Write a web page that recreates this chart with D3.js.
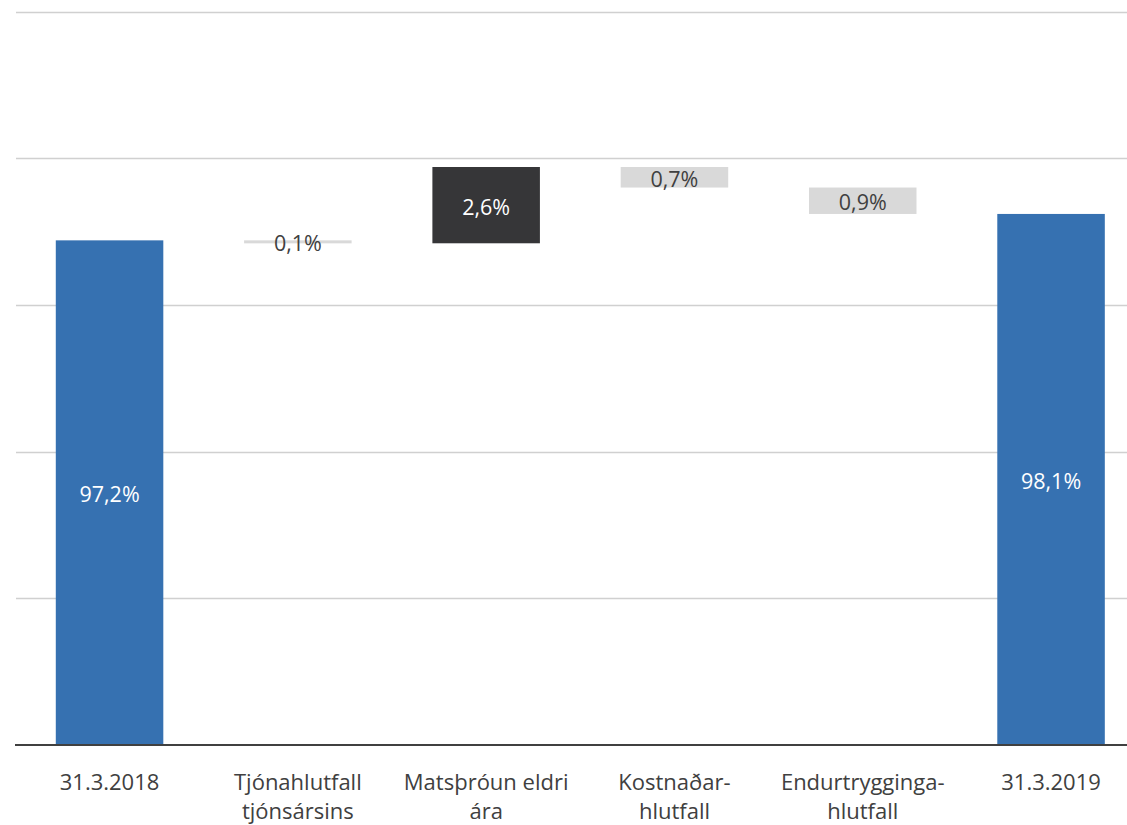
<!DOCTYPE html>
<html><head><meta charset="utf-8">
<script src="https://cdn.jsdelivr.net/npm/d3@7"></script>
<style>body{margin:0;background:#fff}svg{display:block}</style>
</head><body>
<script>
const categories = [["31.3.2018"],["Tjónahlutfall","tjónsársins"],["Matsþróun eldri","ára"],["Kostnaðar-","hlutfall"],["Endurtrygginga-","hlutfall"],["31.3.2019"]];
const values = [97.2, -0.1, 2.6, -0.7, -0.9, 98.1];
const kinds = ["total","delta","delta","delta","delta","total"];
const yTicks = [80, 85, 90, 95, 100, 105];

const W = 1127, H = 825;
const svg = d3.select("body").append("svg").attr("width", W).attr("height", H);
const font = "'Open Sans', sans-serif";

const x = d3.scaleBand().domain(d3.range(categories.length)).range([15.4, 1145.2]).paddingInner(0.429).paddingOuter(0.2145);
const y = d3.scaleLinear().domain([80, 105]).range([745, 11.5]);

// gridlines
svg.append("g").selectAll("line").data(yTicks.slice(1)).join("line")
  .attr("x1", 16).attr("x2", W).attr("y1", d => Math.round(y(d)) + 0.5).attr("y2", d => Math.round(y(d)) + 0.5)
  .attr("stroke", "#d0d0d0").attr("stroke-width", 1.3);

// compute waterfall segments
let run = 0;
const segs = values.map((v, i) => {
  let lo, hi, fill, tc;
  if (kinds[i] === "total") { lo = 80; hi = v; run = v; fill = "#3671b1"; tc = "#ffffff"; }
  else { const s = run, e = run + v; lo = Math.min(s, e); hi = Math.max(s, e); run = e;
    fill = v > 0 ? "#363638" : "#d9d9d9"; tc = v > 0 ? "#ffffff" : "#404040"; }
  return {i, v, lo, hi, fill, tc};
});

svg.append("g").selectAll("rect").data(segs).join("rect")
  .attr("x", d => x(d.i)).attr("width", x.bandwidth())
  .attr("y", d => y(d.hi)).attr("height", d => Math.max(3, y(d.lo) - y(d.hi)))
  .attr("fill", d => d.fill);

const fmt = v => d3.format(".1f")(Math.abs(v)).replace(".", ",") + "%";
svg.append("g").selectAll("text").data(segs).join("text")
  .attr("x", d => x(d.i) + x.bandwidth() / 2)
  .attr("y", d => (y(d.lo) + y(d.hi)) / 2 + 2)
  .attr("dy", "0.35em").attr("text-anchor", "middle")
  .attr("font-family", font).attr("font-size", 21.5)
  .attr("fill", d => d.tc).text(d => fmt(d.v));

// baseline
svg.append("line").attr("x1", 15).attr("x2", W).attr("y1", y(80)).attr("y2", y(80))
  .attr("stroke", "#404040").attr("stroke-width", 2);

// category labels
const lab = svg.append("g").selectAll("text").data(categories).join("text")
  .attr("text-anchor", "middle").attr("font-family", font).attr("font-size", 22).attr("fill", "#404040")
  .attr("transform", (d, i) => `translate(${x(i) + x.bandwidth() / 2},790)`);
lab.selectAll("tspan").data(d => d).join("tspan")
  .attr("x", 0).attr("y", (d, j) => j * 29).text(d => d);
</script>
</body></html>
